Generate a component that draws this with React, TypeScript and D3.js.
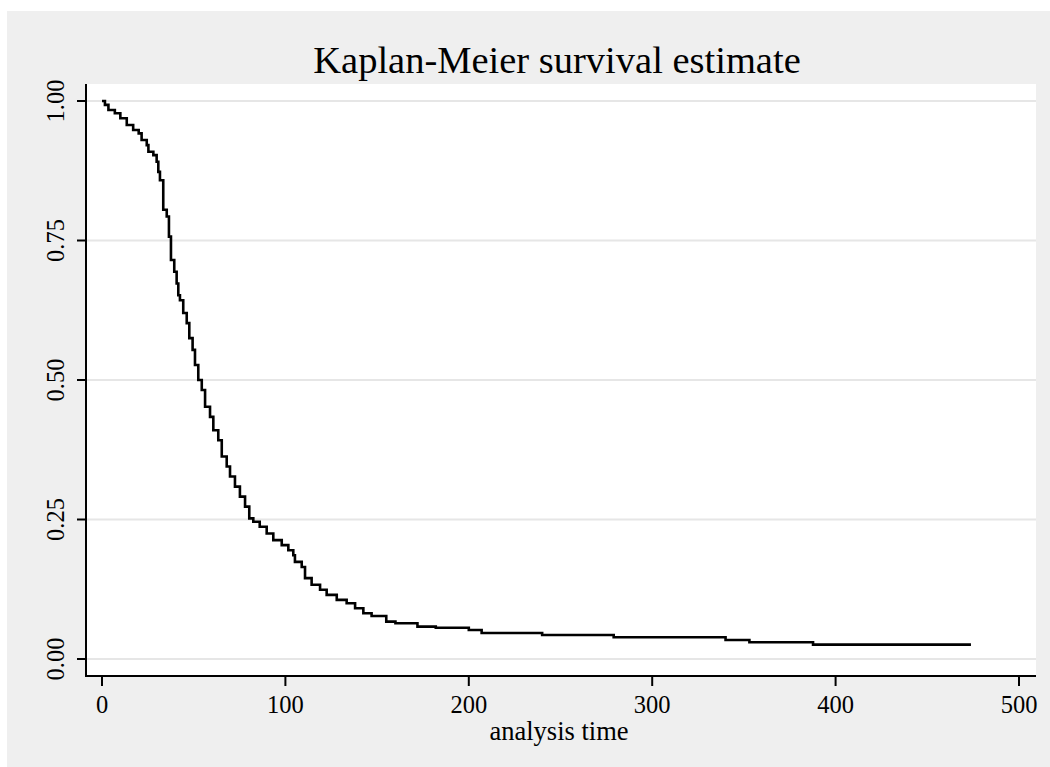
import React from "react";
import * as d3 from "d3";

const times = [0, 1.6, 3.5, 7, 10, 13.5, 17, 20, 21.6, 24.4, 25.3, 28, 29.8, 30.7, 31.6, 33.4, 35.3, 36.5, 37.6, 39.4, 40.7, 41.6, 42.5, 44.3, 46.2, 47.6, 49.4, 50.7, 52.5, 54.4, 56.2, 58.9, 60.7, 63.4, 65.3, 68, 69.8, 72.5, 75.2, 78, 80.3, 82.5, 86, 89.8, 93.4, 98, 101.6, 104.3, 105.2, 108.9, 110.7, 114.3, 118.9, 122.5, 128, 133.4, 138, 142.5, 147, 155, 160, 172, 182, 200, 207, 240, 279, 340, 353, 387.7, 473.8];
const survival = [1.0, 0.993, 0.984, 0.978, 0.969, 0.957, 0.948, 0.942, 0.93, 0.921, 0.909, 0.903, 0.891, 0.873, 0.858, 0.805, 0.793, 0.757, 0.715, 0.694, 0.673, 0.652, 0.643, 0.62, 0.602, 0.575, 0.554, 0.527, 0.5, 0.482, 0.452, 0.434, 0.41, 0.392, 0.363, 0.345, 0.327, 0.309, 0.291, 0.273, 0.252, 0.246, 0.237, 0.225, 0.213, 0.204, 0.195, 0.186, 0.174, 0.165, 0.145, 0.133, 0.124, 0.115, 0.106, 0.1, 0.091, 0.082, 0.077, 0.067, 0.064, 0.058, 0.056, 0.052, 0.0466, 0.043, 0.039, 0.034, 0.03, 0.0257, 0.0257];

const xTicks = [0, 100, 200, 300, 400, 500];
const yTicks = [0, 0.25, 0.5, 0.75, 1];
const yTickLabels = ["0.00", "0.25", "0.50", "0.75", "1.00"];
const title = "Kaplan-Meier survival estimate";
const xLabel = "analysis time";

const W = 1050, H = 767;
const plot = { left: 86, right: 1036, top: 84, bottom: 676 };
const FONT = "'Liberation Serif', 'Times New Roman', serif";

export default function App() {
  const x = d3.scaleLinear().domain([0, 500]).range([102, 1019]);
  const y = d3.scaleLinear().domain([0, 1]).range([659, 101]);
  const pts = times.map((t, i) => [t, survival[i]] as [number, number]);
  const line = d3.line<[number, number]>().x(d => x(d[0])).y(d => y(d[1])).curve(d3.curveStepAfter);
  return (
    <svg width={W} height={H} style={{ position: "absolute", left: 0, top: 0 }} fontFamily={FONT}>
      <rect x={0} y={0} width={W} height={H} fill="#ffffff" />
      <rect x={7} y={11} width={W - 7} height={H - 11} fill="#efefef" />
      <rect x={plot.left} y={plot.top} width={plot.right - plot.left} height={plot.bottom - plot.top} fill="#ffffff" />
      {yTicks.map(v => (
        <line key={"g" + v} x1={plot.left} x2={plot.right} y1={y(v)} y2={y(v)} stroke="#e6e6e6" strokeWidth={2} />
      ))}
      <path d={line(pts) || ""} fill="none" stroke="#000" strokeWidth={2.6} />
      <line x1={plot.left} x2={plot.left} y1={plot.top} y2={plot.bottom + 1} stroke="#000" strokeWidth={2} />
      <line x1={plot.left - 1} x2={plot.right} y1={plot.bottom} y2={plot.bottom} stroke="#000" strokeWidth={2} />
      {yTicks.map((v, i) => (
        <g key={"y" + v}>
          <line x1={77} x2={plot.left} y1={y(v)} y2={y(v)} stroke="#000" strokeWidth={2} />
          <text transform={`translate(64,${y(v)}) rotate(-90)`} textAnchor="middle" fontSize={24.5} fill="#000">{yTickLabels[i]}</text>
        </g>
      ))}
      {xTicks.map(v => (
        <g key={"x" + v}>
          <line x1={x(v)} x2={x(v)} y1={plot.bottom} y2={686} stroke="#000" strokeWidth={2} />
          <text x={x(v)} y={713} textAnchor="middle" fontSize={24.5} fill="#000">{v}</text>
        </g>
      ))}
      <text x={559} y={740} textAnchor="middle" fontSize={26.5} fill="#000">{xLabel}</text>
      <text x={557} y={73} textAnchor="middle" fontSize={38.5} fill="#000">{title}</text>
    </svg>
  );
}
